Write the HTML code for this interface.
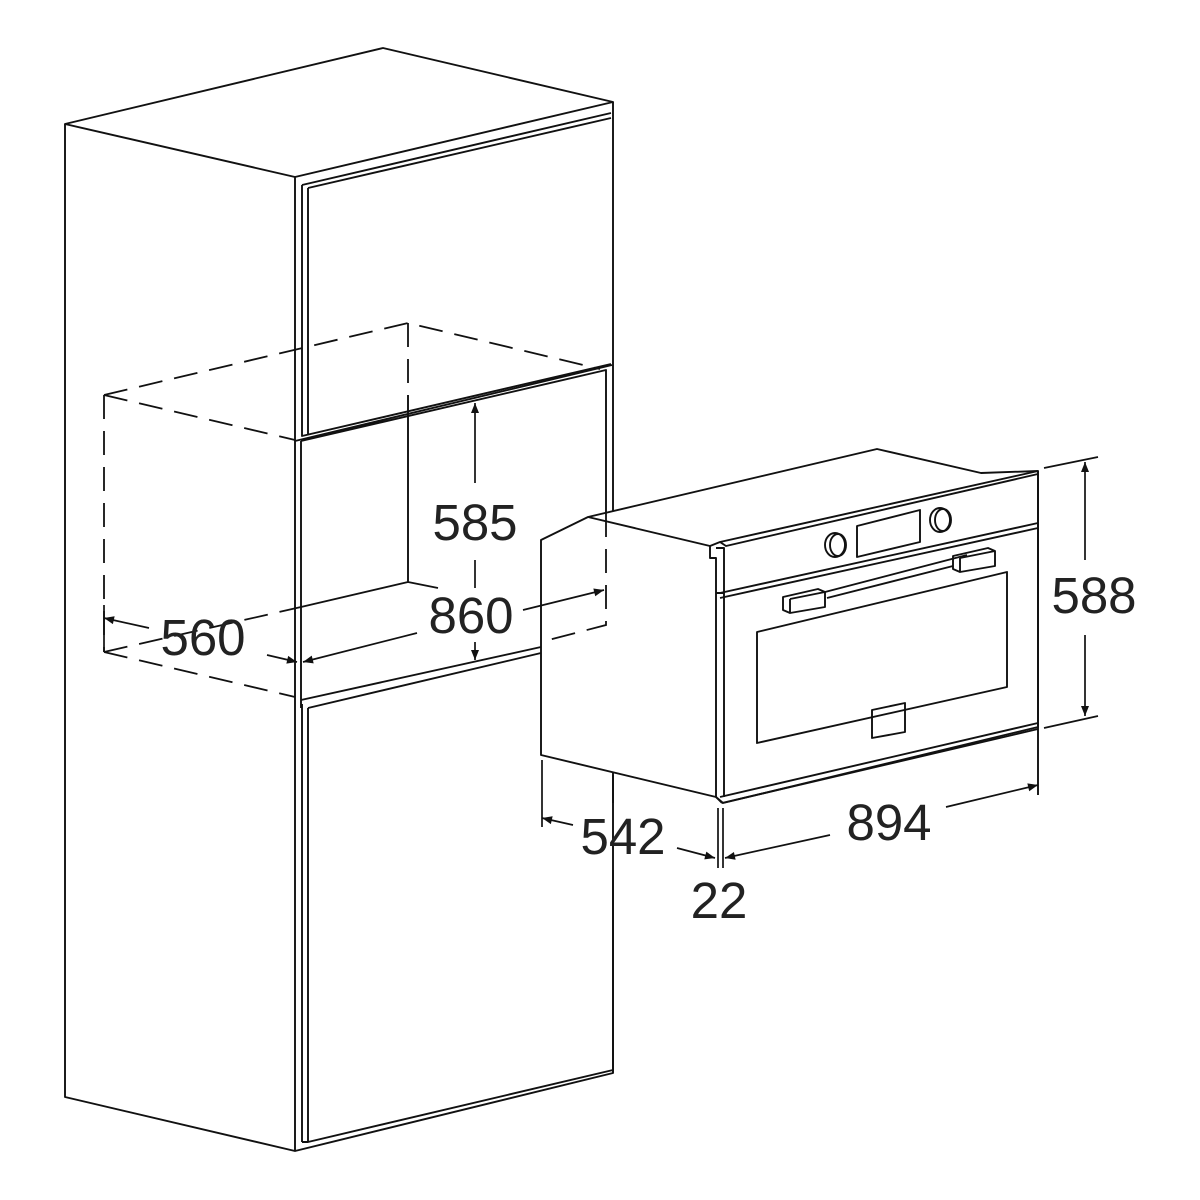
<!DOCTYPE html>
<html><head><meta charset="utf-8"><style>
html,body{margin:0;padding:0;background:#fff;}
svg{display:block}
text{font-family:"Liberation Sans",sans-serif;font-size:51px;fill:#222;text-anchor:middle}
</style></head><body>
<svg width="1200" height="1200" viewBox="0 0 1200 1200" xmlns="http://www.w3.org/2000/svg">
<defs>
<marker id="a" viewBox="0 0 10 10" refX="10" refY="5" markerWidth="15" markerHeight="10" markerUnits="userSpaceOnUse" orient="auto"><path d="M0,1 L10,5 L0,9 z" fill="#111"/></marker>
</defs>
<g fill="none" stroke="#111" stroke-width="1.9" stroke-linejoin="round">
<path d="M65,124 L383,48 L613,102 L295,177 Z"/>
<path d="M65,124 L65,1097 L295,1151 L613,1073 L613,102"/>
<path d="M295,177 L295,1151"/>
<path d="M302,185 L611,113 M302,185 L302,436 L611,364 M308,188 L308,434 M308,188 L611,118"/>
<path d="M295,441 L612,365 M301,441 L606,370 L606,650"/>
<path d="M301,441 L301,700"/>
<path d="M408,395 L408,582 L301,607 M408,582 L438,588"/>
<path d="M301,700 L541,647 M308,708 L541,653 M301,700 L301,708"/>
<path d="M302,704 L302,1142 M308,708 L308,1142 L613,1070 M302,1142 L308,1142"/>
</g>
<g fill="none" stroke="#111" stroke-width="1.8" stroke-dasharray="24,12">
<path d="M104,395 L408,323 L600,369"/>
<path d="M104,395 L295,440"/>
<path d="M104,395 L104,652"/>
<path d="M104,652 L295,697"/>
<path d="M104,652 L301,607"/>
<path d="M408,323 L408,395"/>
</g>
<g fill="#fff" stroke="#111" stroke-width="1.9" stroke-linejoin="round">
<path d="M541,540 L588,517 L877,449 L981,473 L1038,471 L1038,727 L723,803 L716,797 L541,755 Z"/>
</g>
<g fill="none" stroke="#111" stroke-width="1.9" stroke-linejoin="round">
<path d="M588,517 L710,546"/>
<path d="M710,546 L710,558 L716,558 L716,797"/>
<path d="M710,546 L720,542 L1038,471"/>
<path d="M716,548 L724,548 L724,797 M720,542 L726,546 L1038,474"/>
<path d="M720,593 L1038,523 M720,598 L1038,528 M716,593 L724,593"/>
<path d="M720,797 L1038,723 M722,803 L1038,729 M716,797 L722,803"/>
<path d="M1038,471 L1038,795"/>
<path d="M757,632 L1007,572 L1007,687 L757,743 Z"/>
<path d="M857,526 L920,510 L920,542 L857,557 Z"/>
<path d="M872,710 L905,703 L905,732 L872,738 Z"/>
<path d="M825,592 L967,555 M827,598 L953,566"/>
<path d="M783,597 L818,589 L825,592 L825,607 L790,613 L783,610 Z M790,599 L790,613 M790,599 L825,592"/>
<path d="M953,556 L988,548 L995,551 L995,566 L960,572 L953,569 Z M960,558 L960,572 M960,558 L995,551"/>
<ellipse cx="835" cy="545" rx="10" ry="12"/><ellipse cx="838" cy="545" rx="8" ry="11"/>
<ellipse cx="940" cy="520" rx="10" ry="12"/><ellipse cx="943" cy="520" rx="8" ry="11"/>
<path d="M613,775 L613,803 M613,870 L613,1073"/>
</g>
<g fill="none" stroke="#111" stroke-width="1.8" stroke-dasharray="24,12">
<path d="M606,513 L606,625 L541,642"/>
</g>
<g fill="none" stroke="#111" stroke-width="1.7">
<path d="M475,483 L475,403" marker-end="url(#a)"/>
<path d="M475,560 L475,588"/>
<path d="M475,642 L475,660" marker-end="url(#a)"/>
<path d="M417,633 L303,662" marker-end="url(#a)"/>
<path d="M523,610 L604,590" marker-end="url(#a)"/>
<path d="M149,628 L104,618" marker-end="url(#a)"/>
<path d="M267,655 L297,662" marker-end="url(#a)"/>
<path d="M104,605 L104,652"/>
<path d="M1044,468 L1098,457 M1044,728 L1098,716"/>
<path d="M1085,560 L1085,462" marker-end="url(#a)"/>
<path d="M1085,635 L1085,716" marker-end="url(#a)"/>
<path d="M542,760 L542,827"/>
<path d="M573,825 L542,818" marker-end="url(#a)"/>
<path d="M677,848 L715,858" marker-end="url(#a)"/>
<path d="M718,808 L718,868 M723,808 L723,868"/>
<path d="M830,835 L725,858" marker-end="url(#a)"/>
<path d="M946,807 L1038,785" marker-end="url(#a)"/>
</g>
<text x="475" y="540">585</text>
<text x="471" y="633">860</text>
<text x="203" y="655">560</text>
<text x="1094" y="613">588</text>
<text x="889" y="840">894</text>
<text x="623" y="854">542</text>
<text x="719" y="918">22</text>
</svg>
</body></html>
